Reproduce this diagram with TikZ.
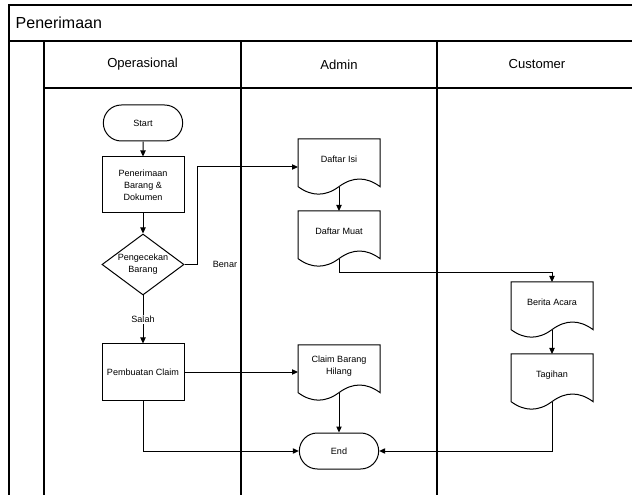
\documentclass[tikz,border=0pt]{standalone}
\usepackage{fontspec}
\setmainfont{Liberation Sans}
\usetikzlibrary{arrows.meta,shapes.geometric,shapes.misc}

% text of a document symbol, lifted above the wavy bottom edge
\newcommand\doctext[1]{\raisebox{0pt}[\height][\dimexpr\depth+10.5pt\relax]{\begin{tabular}{@{}c@{}}#1\end{tabular}}}
% outline of a document symbol with a wavy bottom edge
\newcommand\docoutline[1]{\draw[docline,shift={(#1.north west)}] (0,0) -- (82,0) -- (82,47.6)
  .. controls (68.33,37.52) and (54.67,37.52) .. (41,47.6)
  .. controls (27.33,57.68) and (13.67,57.68) .. (0,47.6) -- cycle;}

\begin{document}
\begin{tikzpicture}[x=0.75pt,y=-0.75pt,
  lane/.style={line width=0.85pt,black},
  nodefont/.style={font=\fontsize{6.8}{9}\selectfont},
  box/.style={draw,line width=0.75pt,nodefont,align=center,inner sep=1pt,
    minimum width=61.5pt,minimum height=42pt},
  terminal/.style={rounded rectangle,draw,line width=0.75pt,nodefont,inner sep=1pt,
    minimum width=61.5pt,minimum height=27pt},
  decision/.style={diamond,draw,line width=0.75pt,nodefont,align=center,inner sep=0pt,
    shape aspect=1.34,minimum width=61.5pt,minimum height=45.75pt},
  docnode/.style={nodefont,inner sep=0pt,outer sep=0pt,
    minimum width=61.5pt,minimum height=42pt},
  docline/.style={line width=0.75pt},
  arr/.style={line width=0.75pt,-{Triangle[length=4.5pt,width=4pt]}},
  lbl/.style={nodefont,inner sep=1pt},
  head/.style={font=\fontsize{9.8}{12}\selectfont}]

\useasboundingbox (0,0) rectangle (632,495);
\clip (0,0) rectangle (632,495);

% pool and swimlanes
\draw[lane] (9,505) -- (9,5) -- (645,5);
\draw[lane] (9,41) -- (645,41);
\draw[lane] (44,88) -- (645,88);
\draw[lane] (44,41) -- (44,505);
\draw[lane] (241,41) -- (241,505);
\draw[lane] (437,41) -- (437,505);

\node[anchor=west,font=\fontsize{12}{14}\selectfont] (pool) at (11,23) {Penerimaan};
\node[head] (hop) at (142.5,64.5) {Operasional};
\node[head] (hadm) at (339,64.5) {Admin};
\node[head] (hcus) at (537,64.5) {Customer};

% Operasional
\node[terminal] (start) at (143,123) {Start};
\node[box] (recv) at (143,185) {Penerimaan\\Barang \&\\Dokumen};
\node[decision] (check) at (143,264.5) {Pengecekan\\Barang};
\node[box] (claim) at (143,372) {Pembuatan Claim};
\node[lbl] (benar) at (225,264) {Benar};

% Admin
\node[docnode] (isi) at (339,167) {\doctext{Daftar Isi}};
\node[docnode] (muat) at (339,239) {\doctext{Daftar Muat}};
\node[docnode] (hilang) at (339,373) {\doctext{Claim Barang\\Hilang}};
\node[terminal] (end) at (339,451) {End};

% Customer
\node[docnode] (berita) at (552,310) {\doctext{Berita Acara}};
\node[docnode] (tagihan) at (552,382) {\doctext{Tagihan}};

\docoutline{isi}
\docoutline{muat}
\docoutline{hilang}
\docoutline{berita}
\docoutline{tagihan}

% flow
\draw[arr] (start) -- (recv);
\draw[arr] (recv) -- (check);
\draw[arr] (check.east) -- ++(13,0) |- (isi.west);
\draw[arr] ([yshift=6.3pt]isi.south) -- (muat.north);
\draw[arr] ([yshift=6.3pt]muat.south) -- ++(0,14.4) -| (berita.north);
\draw[arr] ([yshift=6.3pt]berita.south) -- (tagihan.north);
\draw[arr] ([yshift=6.3pt]tagihan.south) |- (end.east);
\draw[arr] (check.south) -- node[lbl,fill=white] (salah) {Salah} (claim.north);
\draw[arr] (claim.east) -- (claim.east -| hilang.west);
\draw[arr] ([yshift=6.3pt]hilang.south) -- (end.north);
\draw[arr] (claim.south) |- (end.west);
\end{tikzpicture}
\end{document}
